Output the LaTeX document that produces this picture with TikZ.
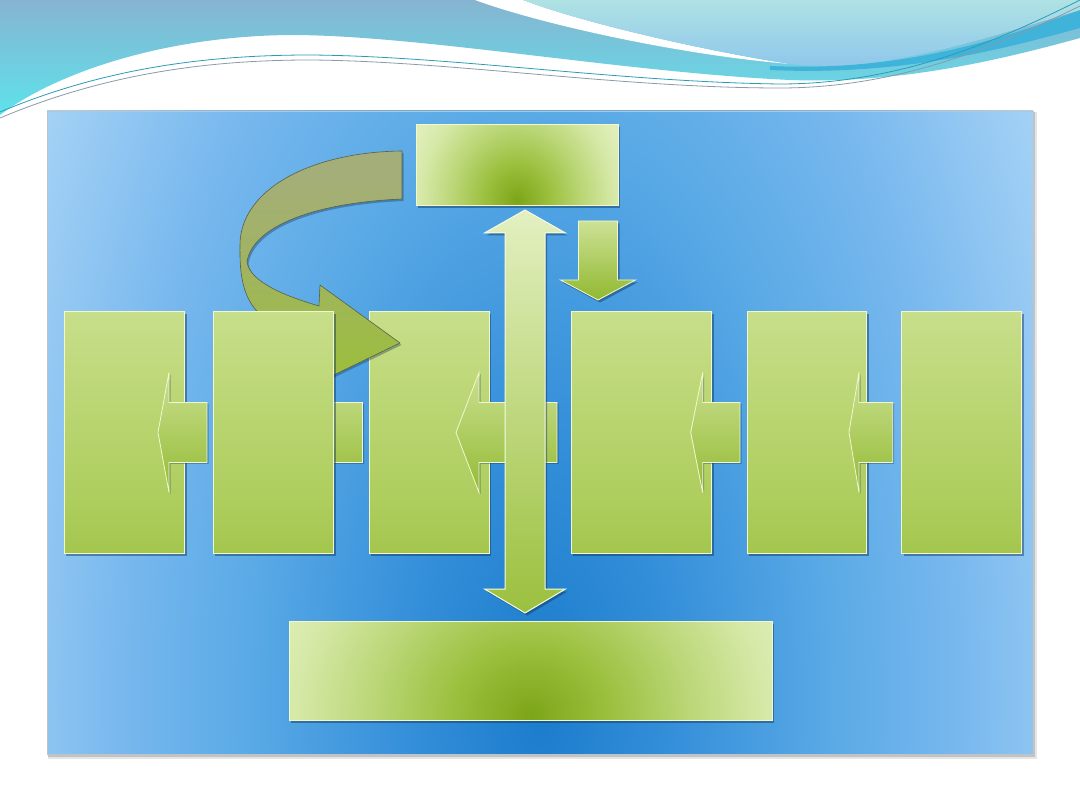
\documentclass[tikz,border=0pt]{standalone}
\usetikzlibrary{calc,shadows}
\pgfdeclarelayer{back}\pgfdeclarelayer{low}
\pgfsetlayers{back,low,main}
% colours
\definecolor{waveAa}{HTML}{86B4D0}
\definecolor{waveAb}{HTML}{5EE2EC}
\definecolor{waveBa}{HTML}{AEE2E4}
\definecolor{waveBb}{HTML}{8CC4EC}
\definecolor{darkband}{HTML}{3FB3DA}
\definecolor{lineA}{HTML}{2C9CB4}
\definecolor{lineB}{HTML}{8A9AA8}
\definecolor{rbA}{HTML}{A2C44E}
\definecolor{rbB}{HTML}{91B930}
\definecolor{rbC}{HTML}{ADCD5C}
\definecolor{rbD}{HTML}{C4DC84}
\definecolor{rbE}{HTML}{D6E8A6}
\definecolor{rbF}{HTML}{DEECB4}
\definecolor{brA}{HTML}{7DA518}
\definecolor{brB}{HTML}{9BC03E}
\definecolor{brC}{HTML}{BAD676}
\definecolor{brD}{HTML}{D6E9A8}
\definecolor{brE}{HTML}{E0EEBA}
\definecolor{pA}{HTML}{1B7CCC}
\definecolor{pB}{HTML}{3690DA}
\definecolor{pC}{HTML}{5AAAE6}
\definecolor{pD}{HTML}{78B8EE}
\definecolor{pE}{HTML}{90C6F2}
\definecolor{pF}{HTML}{A8D4F6}
\definecolor{pG}{HTML}{B6DCF8}
\definecolor{cvA}{HTML}{96BF2E}
\definecolor{cvB}{HTML}{9CBD40}
\definecolor{cvC}{HTML}{A0B460}
\definecolor{cvD}{HTML}{A4AE78}
\definecolor{cvE}{HTML}{A8B086}
\definecolor{boxedge}{HTML}{F2F8CC}
\definecolor{panelbd}{HTML}{BFC4C8}
\definecolor{shadowc}{HTML}{10305A}
% shadings
\pgfdeclareverticalshading{rowsh}{100bp}{color(0bp)=(rbA); color(5bp)=(rbB); color(35bp)=(rbC); color(70bp)=(rbD); color(96bp)=(rbE); color(100bp)=(rbF)}
\pgfdeclareradialshading{boxrad}{\pgfpoint{0bp}{0bp}}{color(0bp)=(brA); color(7bp)=(brB); color(14bp)=(brC); color(21bp)=(brD); color(25bp)=(brE); color(50bp)=(brE)}
\pgfdeclareradialshading{panelrad}{\pgfpoint{0bp}{0bp}}{color(0bp)=(pA); color(5bp)=(pB); color(10.5bp)=(pC); color(15bp)=(pD); color(18bp)=(pE); color(21bp)=(pF); color(25bp)=(pG); color(50bp)=(pG)}
\pgfdeclareverticalshading{curvesh}{100bp}{color(0bp)=(cvA); color(30bp)=(cvB); color(50bp)=(cvC); color(70bp)=(cvD); color(100bp)=(cvE)}
\tikzset{
  boxshadow/.style={drop shadow={shadow xshift=2pt, shadow yshift=-2.5pt, opacity=.45, fill=shadowc}},
  rowbox/.style={shade, shading=rowsh, draw=boxedge, line width=1pt, minimum height=241pt,
                 inner sep=0pt, outer sep=0pt, anchor=north west, boxshadow},
  radbox/.style={fill=brE, draw=boxedge, line width=1pt, inner sep=0pt, outer sep=0pt, anchor=north west, boxshadow},
  blk/.style={top color=rbD!90!white, bottom color=rbB!90!rbC, draw=boxedge, line width=0.8pt, line join=miter,
              drop shadow={shadow xshift=1.5pt, shadow yshift=-1.5pt, opacity=.35, fill=shadowc}},
  dblarrow/.style={top color=brE!90!white, middle color=rbD!80!rbE, bottom color=brB, draw=boxedge!60!white,
              line width=1pt, line join=miter, boxshadow},
  downarrow/.style={top color=rbD!85!white, bottom color=rbB, draw=boxedge, line width=0.8pt, line join=miter, boxshadow},
  curvearrow/.style={shade, shading=curvesh, draw=black!45!cvD, line width=0.6pt, line join=round,
              drop shadow={shadow xshift=1.5pt, shadow yshift=-2pt, opacity=.35, fill=shadowc}},
}
\newcommand\lblock[5]{%
  \draw[blk] ($(#1)+(#2,0)$) -- ++(#3,-60) -- ++(0,30) -- ($(#4)+(#5,-30)$) -- ++(0,60)
     -- ($(#1)+(#2+#3,30)$) -- ++(0,30) -- cycle;}
\begin{document}
\begin{tikzpicture}[x=1pt,y=-1pt]
\useasboundingbox (0,0) rectangle (1080,810);
\begin{pgfonlayer}{back}
  \fill[white] (0,0) rectangle (1080,810);
  % header wave
  \shade[top color=waveAa, bottom color=waveAb] (0,0) -- (1080,0) -- (1080,38)
     .. controls (1000,60) and (900,84) .. (790,80)
     .. controls (620,72) and (420,35) .. (290,35)
     .. controls (170,36) and (60,70) .. (0,115) -- cycle;
  \fill[white] (475,0) .. controls (540,24) and (680,55) .. (790,64)
     .. controls (700,50) and (580,22) .. (523,0) -- cycle;
  \fill[darkband] (770,66) .. controls (900,72) and (1000,40) .. (1080,10) -- (1080,28)
     .. controls (1000,50) and (900,76) .. (770,70) -- cycle;
  \shade[top color=waveBa, bottom color=waveBb] (523,0) .. controls (580,22) and (700,50) .. (790,64)
     .. controls (880,74) and (980,40) .. (1080,10) -- (1080,0) -- cycle;
  \draw[lineA, line width=0.8pt] (0,112) .. controls (100,70) and (200,55) .. (310,55)
     .. controls (450,56) and (620,82) .. (780,84) .. controls (900,84) and (1000,40) .. (1080,0);
  \draw[lineB, line width=0.8pt] (0,118) .. controls (100,76) and (200,60) .. (310,60)
     .. controls (450,61) and (620,88) .. (780,88) .. controls (900,88) and (1000,45) .. (1080,6);
  % panel
  \fill[black, opacity=.10] (48,112) rectangle (1037,759);
  \fill[black, opacity=.15] (48,112) rectangle (1035,757);
  \node[anchor=north west, minimum width=986pt, minimum height=643pt, inner sep=0pt, outer sep=0pt,
        fill=pG, draw=panelbd, line width=.8pt,
        path picture={\shade[shading=panelrad] ([yshift=54pt]path picture bounding box.south)
           ellipse [x radius=700pt, y radius=1400pt];}] (panel) at (47,111) {};
\end{pgfonlayer}

% top and bottom boxes
\node[radbox, minimum width=202pt, minimum height=81pt,
      path picture={\shade[shading=boxrad] ([yshift=6pt]path picture bounding box.south)
         ellipse [x radius=115pt, y radius=130pt];}] (top) at (416,125) {};
\node[radbox, minimum width=483pt, minimum height=99pt,
      path picture={\shade[shading=boxrad] ([yshift=5pt]path picture bounding box.south)
         ellipse [x radius=280pt, y radius=250pt];}] (bot) at (289,621) {};

% box 3 below the curved arrow tip
\node[rowbox, minimum width=120pt] (b3) at (369,312) {};

% curved arrow from top box to box 3
\coordinate (cs1) at ($(top.west)+(-14,-14.5)$);
\coordinate (cs2) at ($(top.west)+(-14,33.5)$);
\coordinate (ct) at ($(b3.west)+(31,-89.5)$);
\path[curvearrow] (cs1) .. controls (310,152) and (240,190) .. (240,245)
   .. controls (239,295) and (250,320) .. (300,335)
   -- (311,386) -- (ct) -- (320,285) -- (319,306)
   .. controls (285,296) and (250,282) .. (247,262)
   .. controls (252,228) and (310,203) .. (cs2) -- cycle;

% the other boxes
\node[rowbox, minimum width=120.6pt] (b1) at (64,312) {};
\node[rowbox, minimum width=120.6pt] (b2) at (213,312) {};
\node[rowbox, minimum width=140.7pt] (b4) at (571,312) {};
\node[rowbox, minimum width=119.7pt] (b5) at (747,312) {};
\node[rowbox, minimum width=120pt] (b6) at (901.7,312) {};

% arrow hidden behind box 2
\begin{pgfonlayer}{low}
  \lblock{b2.east}{-26}{12}{b3.west}{-6.5}
\end{pgfonlayer}

% left block arrows
\lblock{b1.east}{-26.6}{11}{b2.west}{-6}
\lblock{b3.east}{-33}{23}{b4.west}{-14}
\lblock{b4.east}{-21}{12}{b5.west}{-7}
\lblock{b5.east}{-17.7}{10}{b6.west}{-9}

% vertical double arrow between top and bottom boxes
\coordinate (dT) at ($(top.south)+(8,4)$);
\coordinate (dB) at ($(bot.north)+(-5.5,-8)$);
\draw[dblarrow] (dT) -- ++(40.5,23) -- ++(-20.5,0) -- ($(dB)+(20,-24)$) -- ++(20.5,0) -- (dB)
   -- ++(-40.5,-24) -- ++(20.5,0) -- ($(dT)+(-20,23)$) -- ++(-20.5,0) -- cycle;

% small down arrow from top box to box 4
\coordinate (sT) at ($(top.south east)+(-20,15)$);
\coordinate (sB) at ($(b4.north west)+(27,-12)$);
\draw[downarrow] ($(sT)+(-19.5,0)$) -- ($(sT)+(19.5,0)$) -- ($(sB)+(19.5,-20)$) -- ++(18,0) -- (sB)
   -- ++(-37.5,-20) -- ++(18,0) -- cycle;
\end{tikzpicture}
\end{document}
